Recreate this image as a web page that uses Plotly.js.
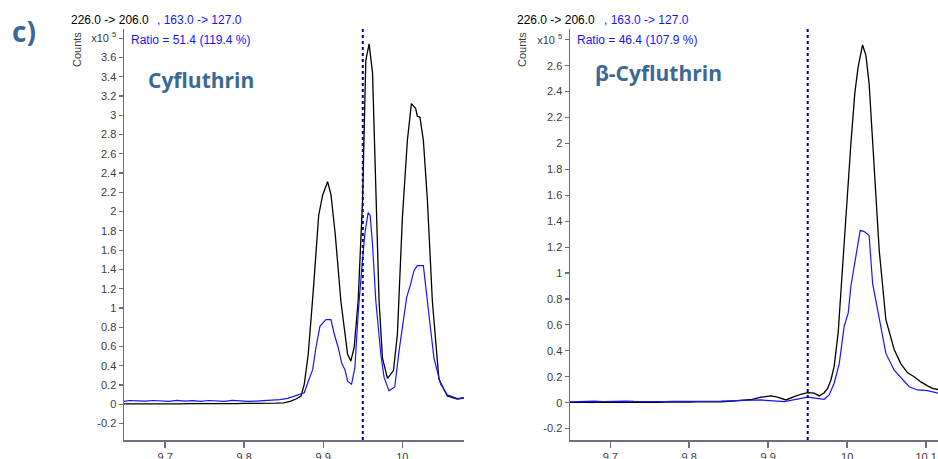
<!DOCTYPE html>
<html><head><meta charset="utf-8">
<script src="https://cdn.plot.ly/plotly-3.0.1.min.js"></script>
<style>html,body{margin:0;padding:0;background:#fff}#chart{width:938px;height:459px}</style>
</head><body><div id="chart"></div>
<script>
// ---------- Data (values in counts x10^5, retention time in min) ----------
const leftRtBlack = [9.648,9.66,9.67,9.68,9.69,9.70,9.71,9.72,9.73,9.74,9.75,9.76,9.77,9.78,9.79,9.80,9.81,9.82,9.83,9.84,9.85,9.858,9.8656,9.8719,9.876,9.881,9.8874,9.8942,9.8992,9.9055,9.9097,9.9151,9.9223,9.9308,9.9349,9.9391,9.9441,9.9497,9.9538,9.958,9.9623,9.9665,9.9706,9.9749,9.9812,9.9888,9.9938,10.0001,10.0064,10.0115,10.0169,10.019,10.0223,10.0266,10.0317,10.038,10.0463,10.0569,10.0695,10.0778];
const leftBlack   = [0.004,0.003,0.005,0.004,0.006,0.005,0.006,0.005,0.007,0.006,0.007,0.008,0.007,0.009,0.008,0.010,0.009,0.011,0.013,0.012,0.016,0.030,0.055,0.086,0.21,0.52,1.18,1.96,2.17,2.31,2.18,1.77,1.07,0.52,0.45,0.59,1.07,2.11,3.57,3.74,3.44,2.25,1.07,0.48,0.27,0.35,0.73,1.94,2.74,3.12,3.07,2.99,2.98,2.74,2.12,1.07,0.26,0.087,0.055,0.065];
const leftRtBlue  = [9.648,9.655,9.665,9.675,9.685,9.695,9.705,9.715,9.725,9.735,9.745,9.755,9.765,9.775,9.785,9.795,9.805,9.815,9.825,9.835,9.845,9.855,9.8697,9.876,9.8811,9.8866,9.8908,9.8958,9.9034,9.9097,9.9139,9.9189,9.9232,9.9274,9.9308,9.9358,9.94,9.9441,9.9488,9.9526,9.9567,9.9593,9.9623,9.9665,9.9728,9.9769,9.9832,9.9904,9.9958,10.0013,10.0055,10.0106,10.0148,10.019,10.0266,10.0317,10.04,10.0484,10.0569,10.0695,10.0778];
const leftBlue    = [0.030,0.040,0.036,0.033,0.040,0.035,0.030,0.042,0.034,0.038,0.031,0.040,0.035,0.030,0.041,0.036,0.030,0.034,0.038,0.042,0.050,0.062,0.097,0.12,0.24,0.36,0.59,0.81,0.88,0.88,0.73,0.59,0.43,0.36,0.24,0.21,0.38,0.94,1.42,1.77,1.99,1.96,1.66,1.07,0.52,0.28,0.14,0.18,0.55,0.90,1.11,1.25,1.39,1.44,1.44,1.07,0.48,0.21,0.10,0.06,0.07];

const rightRtBlack = [9.649,9.66,9.67,9.68,9.69,9.70,9.71,9.72,9.73,9.74,9.75,9.76,9.77,9.78,9.79,9.80,9.81,9.82,9.83,9.84,9.85,9.86,9.87,9.88,9.8908,9.9034,9.9119,9.9224,9.9329,9.9414,9.9499,9.9582,9.9646,9.9709,9.9752,9.9794,9.9835,9.9886,9.9942,9.9996,10.0047,10.0097,10.0139,10.0195,10.0237,10.0278,10.0342,10.0405,10.049,10.0532,10.0595,10.068,10.0765,10.0848,10.0933,10.1018,10.1081,10.1161];
const rightBlack   = [0.002,0.001,0.003,0.002,0.001,0.003,0.002,0.003,0.002,0.004,0.003,0.002,0.004,0.003,0.005,0.004,0.006,0.005,0.007,0.006,0.010,0.014,0.018,0.025,0.042,0.052,0.042,0.021,0.046,0.065,0.077,0.073,0.052,0.077,0.11,0.175,0.28,0.54,1.05,1.56,2.00,2.39,2.59,2.76,2.68,2.46,1.82,1.18,0.64,0.54,0.41,0.30,0.23,0.20,0.16,0.13,0.11,0.10];
const rightRtBlue  = [9.649,9.66,9.67,9.68,9.69,9.70,9.71,9.72,9.73,9.74,9.75,9.76,9.77,9.78,9.79,9.80,9.81,9.82,9.83,9.84,9.85,9.86,9.87,9.88,9.8908,9.9203,9.9499,9.9709,9.9772,9.9835,9.9899,9.9962,10.0013,10.0047,10.011,10.0165,10.0215,10.0278,10.0322,10.0405,10.049,10.0595,10.0701,10.0785,10.0891,10.1018,10.1161];
const rightBlue    = [0.006,0.010,0.008,0.012,0.009,0.011,0.008,0.012,0.010,0.009,0.012,0.010,0.008,0.011,0.009,0.012,0.010,0.011,0.009,0.012,0.014,0.016,0.018,0.020,0.021,0.008,0.042,0.026,0.060,0.15,0.30,0.59,0.69,0.90,1.13,1.33,1.32,1.29,0.92,0.64,0.38,0.25,0.175,0.123,0.098,0.093,0.073];

const xTickVals = [9.7, 9.8, 9.9, 10, 10.1];
const xTickText = ['9.7', '9.8', '9.9', '10', '10.1'];
const leftYTickVals  = [-0.2,0,0.2,0.4,0.6,0.8,1,1.2,1.4,1.6,1.8,2,2.2,2.4,2.6,2.8,3,3.2,3.4,3.6,3.8];
const leftYTickText  = ['-0.2','0','0.2','0.4','0.6','0.8','1','1.2','1.4','1.6','1.8','2','2.2','2.4','2.6','2.8','3','3.2','3.4','3.6','x10 <sup>5</sup>'];
const rightYTickVals = [-0.2,0,0.2,0.4,0.6,0.8,1,1.2,1.4,1.6,1.8,2,2.2,2.4,2.6,2.8];
const rightYTickText = ['-0.2','0','0.2','0.4','0.6','0.8','1','1.2','1.4','1.6','1.8','2','2.2','2.4','2.6','x10 <sup>5</sup>'];
const markerRT = 9.95;
const quantLabel = '226.0 -> 206.0';
const qualLabel = ', 163.0 -> 127.0';
const leftRatio = 'Ratio = 51.4 (119.4 %)';
const rightRatio = 'Ratio = 46.4 (107.9 %)';
const leftName = 'Cyfluthrin';
const rightName = 'β-Cyfluthrin';
const panelLabel = 'c)';

// ---------- Plot ----------
const W = 938, H = 459;
const px = v => v / W, py = v => 1 - v / H;
const FONT = 'Liberation Sans, Arial, sans-serif';
const axisCol = '#6b717c';

const traces = [
  {x: leftRtBlack, y: leftBlack, xaxis: 'x', yaxis: 'y', mode: 'lines', line: {color: '#000000', width: 1.3}},
  {x: leftRtBlue, y: leftBlue, xaxis: 'x', yaxis: 'y', mode: 'lines', line: {color: '#1414ff', width: 1.2}},
  {x: rightRtBlack, y: rightBlack, xaxis: 'x2', yaxis: 'y2', mode: 'lines', line: {color: '#000000', width: 1.3}},
  {x: rightRtBlue, y: rightBlue, xaxis: 'x2', yaxis: 'y2', mode: 'lines', line: {color: '#1414ff', width: 1.2}}
];

const yDom = [19 / H, 1 - 29 / H];
const xAx = (dom, rng, anchor) => ({
  domain: dom, range: rng, anchor: anchor, tickvals: xTickVals, ticktext: xTickText,
  showline: true, linecolor: axisCol, linewidth: 1.5, ticks: 'outside', ticklen: 6, tickcolor: axisCol, tickwidth: 1.5,
  showgrid: false, zeroline: false, tickfont: {family: FONT, size: 11, color: '#3c3c3c'}, fixedrange: true
});
const yAx = (rng, vals, txt, anchor) => ({
  domain: yDom, range: rng, anchor: anchor, tickvals: vals, ticktext: txt,
  showline: true, linecolor: axisCol, linewidth: 1.5, ticks: 'outside', ticklen: 4, tickcolor: axisCol, tickwidth: 1.2,
  showgrid: false, zeroline: false, tickfont: {family: FONT, size: 11, color: '#3c3c3c'}, fixedrange: true
});

const ann = (text, x, y, opts) => Object.assign({
  text: text, x: px(x), y: py(y), xref: 'paper', yref: 'paper', xanchor: 'left', yanchor: 'middle',
  showarrow: false, font: {family: FONT, size: 12, color: '#000'}
}, opts || {});
const titleFont = {family: 'Open Sans, sans-serif', size: 21, color: '#3b6894', weight: 700};

const layout = {
  width: W, height: H, margin: {l: 0, r: 0, t: 0, b: 0},
  paper_bgcolor: '#fff', plot_bgcolor: '#fff', showlegend: false,
  xaxis: xAx([124 / W, 464 / W], [9.648, 10.078], 'y'),
  yaxis: yAx([-0.37, 3.895], leftYTickVals, leftYTickText, 'x'),
  xaxis2: xAx([570 / W, 1], [9.649, 10.115], 'y2'),
  yaxis2: yAx([-0.288, 2.883], rightYTickVals, rightYTickText, 'x2'),
  shapes: [
    {type: 'line', xref: 'x', x0: markerRT, x1: markerRT, yref: 'paper', y0: yDom[0], y1: py(28), line: {color: '#000080', width: 2, dash: 'dot'}},
    {type: 'line', xref: 'x2', x0: markerRT, x1: markerRT, yref: 'paper', y0: yDom[0], y1: py(28), line: {color: '#000080', width: 2, dash: 'dot'}}
  ],
  annotations: [
    ann(panelLabel, 10, 31, {font: {family: 'Open Sans, sans-serif', size: 28, color: '#3b6894', weight: 700}}),
    ann('Counts', 77, 50, {xanchor: 'center', textangle: -90, font: {family: FONT, size: 11, color: '#3c3c3c'}}),
    ann('Counts', 522, 50, {xanchor: 'center', textangle: -90, font: {family: FONT, size: 11, color: '#3c3c3c'}}),
    ann(quantLabel, 69, 20, {}),
    ann(qualLabel, 155, 20, {font: {family: FONT, size: 12, color: '#1414ff'}}),
    ann(leftRatio, 129, 40, {font: {family: FONT, size: 12, color: '#1414ff'}}),
    ann(leftName, 146, 80, {font: titleFont}),
    ann(quantLabel, 515, 20, {}),
    ann(qualLabel, 602, 20, {font: {family: FONT, size: 12, color: '#1414ff'}}),
    ann(rightRatio, 575, 40, {font: {family: FONT, size: 12, color: '#1414ff'}}),
    ann(rightName, 593, 73, {font: titleFont})
  ]
};

Plotly.newPlot('chart', traces, layout, {displayModeBar: false, staticPlot: true});
</script>
</body></html>
